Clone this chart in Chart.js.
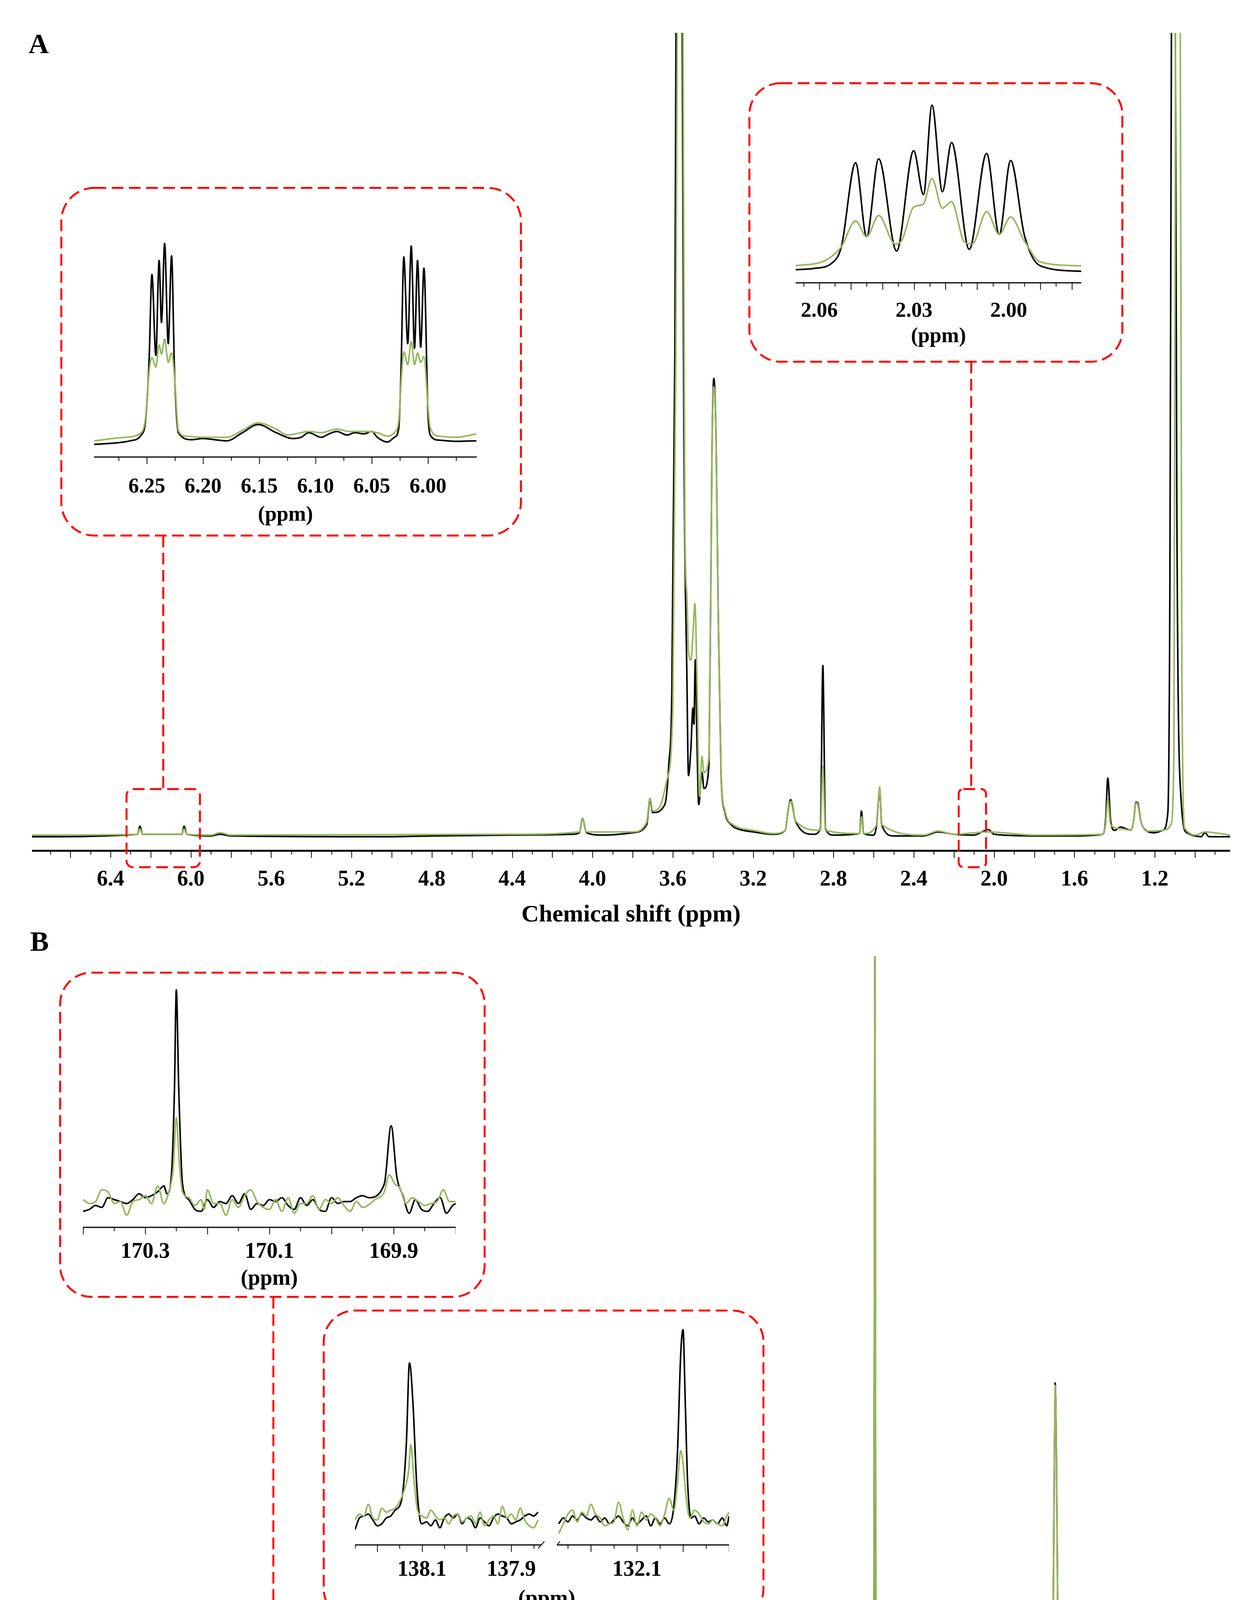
<!DOCTYPE html>
<html><head><meta charset="utf-8">
<script src="https://cdn.jsdelivr.net/npm/chart.js@4.4.0/dist/chart.umd.min.js"></script>
<style>
html,body{margin:0;padding:0;background:#fff;}
#page{position:relative;width:3160px;height:4924px;overflow:hidden;background:#fff;}
canvas{position:absolute;}
.t{position:absolute;font-family:"Liberation Serif","Times New Roman",serif;font-weight:bold;white-space:nowrap;line-height:1;}
svg{position:absolute;left:0;top:0;}
</style></head><body><div id="page"></div>
<script>
// ---------------- DATA ----------------
const CTRL_LABEL = "S-DHP407/NB-DHP407_ctrl";
const LIGHT_LABEL = "S-DHP407/NB-DHP407_light";
const axisTitle = "Chemical shift (ppm)";
const insetTitle = "(ppm)";

// Panel A (1H), [ppm, relative intensity]
const hCtrl = [[0.825,0],[0.93,0],[0.95,0.5],[0.97,0],[1.00,0.1],[1.04,0.5],[1.07,5],[1.09,40],[1.10,120],[1.107,150],[1.115,120],[1.125,30],[1.135,3],[1.16,0.8],[1.20,0.5],[1.24,0.7],[1.27,2],[1.285,4.2],[1.294,4.3],[1.305,2],[1.32,0.8],[1.37,1.2],[1.40,0.8],[1.42,2],[1.434,7.3],[1.445,2],[1.46,0.3],[1.6,0.1],[1.8,0.1],[2.00,0.3],[2.03,0.9],[2.06,0.6],[2.10,0.2],[2.20,0.3],[2.28,0.6],[2.35,0.1],[2.50,0.1],[2.56,1.5],[2.57,5.9],[2.585,1.5],[2.60,0.2],[2.65,0.4],[2.661,3.2],[2.67,0.4],[2.80,0.2],[2.84,1],[2.853,21.3],[2.865,1],[2.90,0.3],[2.99,2],[3.005,4.0],[3.013,4.6],[3.025,3.5],[3.04,0.8],[3.10,0.3],[3.20,0.6],[3.28,1],[3.31,1.5],[3.34,3],[3.36,8],[3.375,30],[3.385,50],[3.396,57],[3.405,48],[3.42,9],[3.445,6],[3.455,8],[3.471,4],[3.48,12],[3.488,22],[3.495,14],[3.50,16],[3.51,11],[3.522,7.6],[3.53,20],[3.545,50],[3.558,130],[3.575,150],[3.59,60],[3.605,18],[3.62,9],[3.64,4],[3.70,3],[3.714,4.6],[3.73,1.5],[3.80,0.5],[3.95,0.2],[4.03,0.5],[4.05,2.3],[4.065,0.5],[4.10,0.3],[4.4,0.2],[4.8,0.1],[5.0,0],[5.8,0.1],[5.855,0.3],[5.9,0.1],[6.02,0.3],[6.034,1.3],[6.045,0.3],[6.24,0.3],[6.254,1.3],[6.265,0.3],[6.791,0]];
const hLight = [[0.825,0.2],[0.95,0.6],[1.00,0.2],[1.05,1],[1.065,20],[1.075,120],[1.086,150],[1.095,120],[1.105,10],[1.12,1.5],[1.16,0.8],[1.24,0.7],[1.27,2],[1.285,4.0],[1.294,4.2],[1.305,2],[1.32,0.8],[1.37,1.0],[1.42,1.5],[1.434,4.6],[1.445,1.5],[1.46,0.3],[1.8,0.2],[2.03,0.6],[2.2,0.3],[2.28,0.7],[2.35,0.2],[2.56,1.5],[2.57,6.2],[2.585,1.5],[2.65,0.4],[2.661,2.5],[2.67,0.4],[2.84,0.8],[2.853,8.7],[2.865,0.8],[2.99,2],[3.005,4.2],[3.013,4.4],[3.025,3.6],[3.04,0.8],[3.10,0.4],[3.20,0.8],[3.30,1.5],[3.34,3.2],[3.36,8.5],[3.375,30],[3.385,50],[3.396,56],[3.405,48],[3.42,10],[3.445,8],[3.455,10],[3.467,5],[3.48,20],[3.49,29],[3.50,25],[3.51,22],[3.522,23],[3.53,30],[3.54,39],[3.552,120],[3.567,150],[3.585,60],[3.60,16],[3.63,7],[3.66,4],[3.70,3.2],[3.714,4.8],[3.73,1.8],[3.80,0.6],[4.03,0.6],[4.05,2.3],[4.065,0.6],[4.4,0.3],[5.8,0.2],[5.855,0.5],[5.9,0.2],[6.02,0.3],[6.034,1.0],[6.045,0.3],[6.24,0.3],[6.254,1.0],[6.265,0.3],[6.791,0.2]];
const hTicks = [6.4,6.0,5.6,5.2,4.8,4.4,4.0,3.6,3.2,2.8,2.4,2.0,1.6,1.2];

// Inset A1 (6.30-5.96 ppm)
const a1Ctrl = [[5.957,5],[5.975,3],[5.99,8],[5.998,30],[6.000,120],[6.0036,742],[6.0065,405],[6.0093,775],[6.012,400],[6.0149,837],[6.018,420],[6.0215,790],[6.024,300],[6.026,60],[6.030,20],[6.036,0],[6.045,20],[6.050,45],[6.057,35],[6.065,40],[6.072,30],[6.081,45],[6.088,35],[6.095,20],[6.106,40],[6.113,20],[6.120,15],[6.135,40],[6.151,75],[6.165,40],[6.179,5],[6.19,10],[6.20,15],[6.21,10],[6.222,40],[6.2254,300],[6.228,795],[6.231,420],[6.2342,848],[6.237,510],[6.2391,775],[6.242,370],[6.2455,715],[6.248,350],[6.251,100],[6.255,30],[6.265,5],[6.28,-5],[6.297,-10]];
const a1Light = [[5.957,35],[5.975,20],[5.99,25],[5.998,60],[6.000,150],[6.0036,365],[6.0065,340],[6.0093,380],[6.012,330],[6.0149,430],[6.018,330],[6.0215,385],[6.024,250],[6.026,90],[6.030,40],[6.036,25],[6.045,40],[6.057,45],[6.07,45],[6.081,55],[6.095,40],[6.106,45],[6.113,40],[6.125,30],[6.135,55],[6.151,82],[6.165,50],[6.179,20],[6.20,20],[6.215,25],[6.222,50],[6.2254,280],[6.228,380],[6.231,340],[6.2342,440],[6.237,375],[6.2391,415],[6.242,320],[6.2455,360],[6.248,300],[6.251,110],[6.255,40],[6.27,20],[6.297,5]];
const a1Ticks = [6.25,6.20,6.15,6.10,6.05,6.00];

// Inset A2 (2.07-1.98 ppm)
const a2Ctrl = [[1.977,-5],[1.990,5],[1.995,60],[1.9994,197],[2.003,62],[2.007,210],[2.0125,35],[2.0181,230],[2.021,140],[2.0243,298],[2.027,135],[2.0301,215],[2.0355,32],[2.0412,200],[2.045,58],[2.0485,193],[2.053,40],[2.056,10],[2.062,0],[2.0675,-2]];
const a2Light = [[1.977,5],[1.990,12],[1.995,50],[1.9994,94],[2.003,62],[2.007,104],[2.0115,45],[2.014,48],[2.0181,122],[2.021,110],[2.0243,164],[2.027,118],[2.0301,112],[2.034,50],[2.036,45],[2.0412,97],[2.045,58],[2.0485,87],[2.053,40],[2.058,15],[2.0675,5]];
const a2Ticks = [2.06,2.03,2.00];

// Panel B (13C)
const cCtrl = [[10.5,0],[17.0,0.3],[17.2,14.4],[17.4,0.3],[25.2,0.3],[25.46,5.9],[25.7,0.3],[29.9,0.2],[30.15,2.9],[30.4,0.2],[38.9,0.5],[39.1,5],[39.3,20],[39.5,38],[39.7,46.3],[39.9,30],[40.1,12],[40.3,0.5],[41.7,0.2],[41.95,3.1],[42.2,0.2],[45.65,0.2],[45.9,3.7],[46.15,0.2],[48.8,0.2],[49.07,3.2],[49.3,0.2],[60.3,0.3],[63.0,0.3],[67.9,0.3],[68.9,0.4],[69.6,1],[69.8,100],[70.0,1],[72.3,0.2],[72.5,8.9],[72.7,0.2],[74.3,0.3],[74.5,16.3],[74.7,0.3],[131.8,0.1],[132.0,1.8],[132.2,0.1],[137.9,0.1],[138.1,1.4],[138.3,0.1],[170.0,0.1],[170.25,2.1],[170.5,0.1],[210.5,0]];
const cLight = [[10.5,0.1],[17.0,0.3],[17.2,14.4],[17.4,0.3],[25.2,0.3],[25.46,2.5],[25.7,0.3],[29.9,0.2],[30.15,0.6],[30.6,0.8],[30.9,0.2],[38.9,0.5],[39.1,5],[39.3,20],[39.5,38],[39.7,46],[39.9,30],[40.1,12],[40.3,0.5],[41.7,0.2],[41.95,1.0],[42.2,0.2],[45.65,0.2],[45.9,1.0],[46.15,0.2],[48.8,0.2],[49.07,0.9],[49.3,0.2],[60.3,0.4],[63.0,0.6],[67.9,0.7],[68.9,0.7],[69.6,1],[69.8,100],[70.0,1],[72.3,0.2],[72.5,8.9],[72.7,0.2],[74.3,0.3],[74.5,16.3],[74.7,0.3],[131.8,0.1],[132.0,0.8],[132.2,0.1],[137.9,0.1],[138.1,0.6],[138.3,0.1],[154.9,0.1],[155.1,0.5],[155.3,0.1],[170.0,0.1],[170.25,1.0],[170.5,0.1],[210.5,0.1]];
const cTicks = [200,190,180,170,160,150,140,130,120,110,100,90,80,70,60,50,40,30,20];

// Inset B1 (170.40-169.80 ppm)
const b1Ctrl = [[169.80,10],[169.805,5],[169.815,-15],[169.825,25],[169.835,10],[169.845,-10],[169.855,-5],[169.865,20],[169.875,-15],[169.885,30],[169.895,80],[169.904,209],[169.915,60],[169.94,25],[169.95,30],[169.96,25],[169.97,15],[169.98,15],[169.99,10],[170.00,25],[170.01,-10],[170.02,-5],[170.03,20],[170.04,5],[170.05,25],[170.06,-5],[170.07,5],[170.08,25],[170.09,15],[170.10,20],[170.11,5],[170.12,10],[170.13,-5],[170.14,35],[170.15,10],[170.16,30],[170.17,10],[170.18,15],[170.19,0],[170.20,20],[170.21,-10],[170.22,-5],[170.23,20],[170.24,60],[170.246,300],[170.25,557],[170.253,300],[170.258,80],[170.265,35],[170.27,55],[170.28,40],[170.29,30],[170.30,25],[170.31,35],[170.32,20],[170.33,10],[170.34,15],[170.35,20],[170.36,25],[170.37,0],[170.38,5],[170.39,-5],[170.40,-10]];
const b1Light = [[169.80,15],[169.81,15],[169.82,45],[169.83,15],[169.84,10],[169.85,5],[169.86,15],[169.87,25],[169.88,10],[169.89,50],[169.898,60],[169.907,83],[169.915,40],[169.93,20],[169.95,0],[169.96,15],[169.97,-10],[169.98,5],[169.99,25],[170.00,10],[170.01,20],[170.02,-5],[170.03,30],[170.04,10],[170.05,10],[170.06,-15],[170.07,25],[170.08,-10],[170.09,20],[170.10,-5],[170.11,0],[170.12,15],[170.13,45],[170.14,30],[170.15,0],[170.16,20],[170.17,-20],[170.18,10],[170.19,10],[170.20,45],[170.205,-5],[170.21,20],[170.22,5],[170.23,25],[170.24,40],[170.245,110],[170.25,230],[170.255,100],[170.262,40],[170.27,10],[170.28,55],[170.29,10],[170.30,30],[170.31,20],[170.32,15],[170.33,-20],[170.34,15],[170.35,10],[170.36,40],[170.37,45],[170.38,15],[170.39,10],[170.40,20]];
const b1Ticks = [170.3,170.1,169.9];

// Inset B2 (broken axis: 138.25-137.83 | 132.27-131.90 ppm)
const b2LCtrl = [[137.84,25],[137.85,15],[137.86,20],[137.87,15],[137.88,5],[137.89,0],[137.90,-5],[137.91,10],[137.92,15],[137.93,20],[137.94,10],[137.95,-10],[137.96,0],[137.97,10],[137.98,-15],[137.99,5],[138.00,10],[138.01,-5],[138.02,20],[138.03,10],[138.04,20],[138.05,10],[138.06,-15],[138.07,5],[138.08,-10],[138.09,0],[138.10,-5],[138.105,10],[138.112,100],[138.12,300],[138.128,407],[138.135,200],[138.145,60],[138.16,30],[138.17,15],[138.18,10],[138.19,-5],[138.20,-10],[138.21,5],[138.22,20],[138.23,15],[138.24,10],[138.25,-20]];
const b2LLight = [[137.84,5],[137.85,-15],[137.86,-10],[137.87,5],[137.88,35],[137.89,5],[137.90,20],[137.91,10],[137.92,40],[137.93,-5],[137.94,15],[137.95,5],[137.96,-10],[137.97,25],[137.98,-5],[137.99,15],[138.00,10],[138.01,0],[138.02,20],[138.03,15],[138.04,-5],[138.05,10],[138.06,5],[138.07,15],[138.08,30],[138.09,10],[138.10,15],[138.11,30],[138.118,110],[138.125,197],[138.13,130],[138.14,80],[138.16,35],[138.17,30],[138.18,25],[138.19,35],[138.20,5],[138.21,10],[138.22,45],[138.23,15],[138.24,20],[138.25,5]];
const b2RCtrl = [[131.90,15],[131.905,-10],[131.915,10],[131.925,-5],[131.935,5],[131.945,0],[131.955,10],[131.965,-5],[131.975,15],[131.982,10],[131.99,100],[131.995,300],[132.0,492],[132.005,430],[132.012,180],[132.02,40],[132.03,-5],[132.04,10],[132.05,-5],[132.06,10],[132.07,-10],[132.08,15],[132.09,5],[132.10,-5],[132.11,10],[132.12,-10],[132.13,0],[132.14,15],[132.15,5],[132.16,-5],[132.17,10],[132.18,0],[132.19,15],[132.20,5],[132.21,10],[132.22,20],[132.23,5],[132.24,15],[132.25,0],[132.26,10],[132.27,-5]];
const b2RLight = [[131.90,25],[131.905,15],[131.915,-10],[131.925,-5],[131.935,5],[131.945,-5],[131.955,0],[131.965,20],[131.975,30],[131.985,10],[131.993,60],[132.0,150],[132.005,182],[132.012,100],[132.02,30],[132.03,60],[132.04,20],[132.05,-10],[132.06,10],[132.07,20],[132.08,5],[132.09,25],[132.10,-10],[132.11,30],[132.12,-20],[132.13,10],[132.14,50],[132.15,0],[132.16,-5],[132.17,-10],[132.18,10],[132.19,20],[132.20,45],[132.21,15],[132.22,25],[132.23,0],[132.24,30],[132.25,20],[132.26,-5],[132.27,-30]];
const b2LTicks = [138.1,137.9];
const b2RTicks = [132.1];

// ---------------- STYLE ----------------
const BLACK = "#000000", GREEN = "#93b85a", RED = "#ff0000";
const SERIF = '"Liberation Serif","Times New Roman",serif';
const page = document.getElementById('page');

const tickPlugin = {
  id: 'nmrTicks',
  afterDraw(chart, args, o) {
    const s = chart.scales.x, ctx = chart.ctx, ca = chart.chartArea;
    ctx.save();
    ctx.strokeStyle = '#000';
    ctx.lineWidth = o.axisW;
    ctx.beginPath(); ctx.moveTo(ca.left, ca.bottom); ctx.lineTo(ca.right, ca.bottom); ctx.stroke();
    ctx.lineWidth = o.tickW;
    const k0 = Math.ceil(s.min / o.minor - 1e-6), k1 = Math.floor(s.max / o.minor + 1e-6);
    for (let k = k0; k <= k1; k++) {
      const v = k * o.minor;
      const r = v / o.major, isMaj = Math.abs(r - Math.round(r)) < 1e-4;
      const x = Math.round(s.getPixelForValue(v)) + 0.5;
      ctx.beginPath(); ctx.moveTo(x, ca.bottom); ctx.lineTo(x, ca.bottom + (isMaj ? o.lmaj : o.lmin)); ctx.stroke();
    }
    if (o.breakRight || o.breakLeft) {
      ctx.lineWidth = 2;
      const x = o.breakRight ? ca.right : ca.left, y = ca.bottom;
      ctx.beginPath(); ctx.moveTo(x - 8, y + 9); ctx.lineTo(x + 8, y - 9); ctx.stroke();
    }
    ctx.restore();
  }
};

function mk(c) {
  const cv = document.createElement('canvas');
  const w = c.R - c.L, h = c.B - c.T;
  cv.width = w; cv.height = h;
  cv.style.left = c.L + 'px'; cv.style.top = c.T + 'px';
  cv.style.width = w + 'px'; cv.style.height = h + 'px';
  page.appendChild(cv);
  const pad = c.lab - c.axis - 0.56 * c.font;
  new Chart(cv.getContext('2d'), {
    type: 'line',
    data: { datasets: [
      // index 0 is drawn on top: light (green) over ctrl (black)
      { label: LIGHT_LABEL, data: c.light.map(p => ({x: p[0], y: p[1]})), borderColor: GREEN, borderWidth: c.lw, pointRadius: 0, cubicInterpolationMode: 'monotone', fill: false },
      { label: CTRL_LABEL, data: c.ctrl.map(p => ({x: p[0], y: p[1]})), borderColor: BLACK, borderWidth: c.lw, pointRadius: 0, cubicInterpolationMode: 'monotone', fill: false }
    ]},
    options: {
      responsive: false, animation: false, devicePixelRatio: 1, events: [],
      layout: { padding: 0 },
      plugins: { legend: { display: false }, tooltip: { enabled: false },
        nmrTicks: { axisW: c.axisW, tickW: 2, minor: c.minor, major: c.major, lmaj: 18, lmin: 10, breakRight: !!c.breakRight, breakLeft: !!c.breakLeft } },
      scales: {
        x: {
          type: 'linear', reverse: true, min: c.xmin, max: c.xmax,
          afterBuildTicks: s => { s.ticks = c.ticks.map(v => ({value: v})); },
          afterFit: s => { s.height = c.B - c.axis; },
          grid: { display: false, drawTicks: false },
          border: { display: false },
          ticks: { color: '#000', padding: pad, maxRotation: 0, autoSkip: false,
            font: { family: SERIF, size: c.font, weight: 'bold' },
            callback: v => v.toFixed(c.dec) },
          title: { display: !!c.title, text: c.title || '', color: '#000', padding: 0,
            font: { family: SERIF, size: c.tfont, weight: 'bold', lineHeight: 1.2 } }
        },
        y: { display: false, min: c.ymin, max: c.ymax }
      }
    },
    plugins: [tickPlugin]
  });
}

// Main A
mk({L:82,R:3150,T:84,axis:2178,B:2380,xmin:0.825,xmax:6.791,ymin:-1.75,ymax:100,ctrl:hCtrl,light:hLight,ticks:hTicks,dec:1,font:56,lab:2250,title:axisTitle,tfont:62,minor:0.1,major:0.2,lw:4,axisW:5});
// Main B
mk({L:82,R:3150,T:2448,axis:4531,B:4742,xmin:10.5,xmax:210.5,ymin:-2.36,ymax:100,ctrl:cCtrl,light:cLight,ticks:cTicks,dec:0,font:56,lab:4603,title:axisTitle,tfont:62,minor:5,major:10,lw:4,axisW:5});
// Inset A1
mk({L:241,R:1221,T:560,axis:1170,B:1351,xmin:5.9566,xmax:6.2969,ymin:-64,ymax:953,ctrl:a1Ctrl,light:a1Light,ticks:a1Ticks,dec:2,font:54,lab:1245,title:insetTitle,tfont:54,minor:0.025,major:0.05,lw:4,axisW:3});
// Inset A2
mk({L:2010,R:2769,T:230,axis:724,B:894,xmin:1.977,xmax:2.0675,ymin:-26,ymax:326,ctrl:a2Ctrl,light:a2Light,ticks:a2Ticks,dec:2,font:54,lab:795,title:insetTitle,tfont:54,minor:0.005,major:0.01,lw:4,axisW:3});
// Inset B1
mk({L:212,R:1167,T:2520,axis:3142,B:3308,xmin:169.8,xmax:170.4006,ymin:-51,ymax:571,ctrl:b1Ctrl,light:b1Light,ticks:b1Ticks,dec:1,font:56,lab:3203,title:insetTitle,tfont:56,minor:0.05,major:0.1,lw:4,axisW:3});
// Inset B2 left / right
mk({L:909,R:1403,T:3390,axis:3955,B:4060,xmin:137.833,xmax:138.25,ymin:-59,ymax:506,ctrl:b2LCtrl,light:b2LLight,ticks:b2LTicks,dec:1,font:56,lab:4017,minor:0.05,major:0.1,lw:4,axisW:3,breakRight:true});
mk({L:1426,R:1867,T:3390,axis:3955,B:4060,xmin:131.90,xmax:132.274,ymin:-59,ymax:506,ctrl:b2RCtrl,light:b2RLight,ticks:b2RTicks,dec:1,font:56,lab:4017,minor:0.05,major:0.1,lw:4,axisW:3,breakLeft:true});

// ---------------- ANNOTATIONS ----------------
function txt(s, x, y, size, color, anchor) {
  const d = document.createElement('div');
  d.className = 't'; d.textContent = s;
  d.style.fontSize = size + 'px'; d.style.color = color;
  d.style.left = x + 'px'; d.style.top = (y - size * 0.891) + 'px';
  if (anchor === 'middle') d.style.transform = 'translateX(-50%)';
  page.appendChild(d);
}
txt('A', 73, 140, 72, '#000');
txt('B', 77, 2438, 72, '#000');
txt(insetTitle, 1400, 4094 + 18, 56, '#000', 'middle');
txt(CTRL_LABEL, 338, 4885, 70, '#000');
txt(LIGHT_LABEL, 2025, 4885, 70, GREEN);

const NS = 'http://www.w3.org/2000/svg';
const svg = document.createElementNS(NS, 'svg');
svg.setAttribute('width', 3160); svg.setAttribute('height', 4924);
page.appendChild(svg);
function rect(x, y, w, h, r) {
  const e = document.createElementNS(NS, 'rect');
  e.setAttribute('x', x); e.setAttribute('y', y); e.setAttribute('width', w); e.setAttribute('height', h);
  e.setAttribute('rx', r); e.setAttribute('ry', r);
  e.setAttribute('fill', 'none'); e.setAttribute('stroke', RED); e.setAttribute('stroke-width', 5);
  e.setAttribute('stroke-dasharray', '30 14');
  svg.appendChild(e);
}
function vline(x, y1, y2) {
  const e = document.createElementNS(NS, 'line');
  e.setAttribute('x1', x); e.setAttribute('x2', x); e.setAttribute('y1', y1); e.setAttribute('y2', y2);
  e.setAttribute('stroke', RED); e.setAttribute('stroke-width', 5); e.setAttribute('stroke-dasharray', '30 14');
  svg.appendChild(e);
}
rect(157, 481, 1177, 890, 85);
rect(1919, 213, 955, 713, 80);
rect(154, 2490, 1087, 830, 80);
rect(829, 3355, 1126, 793, 80);
rect(324, 2020, 188, 200, 16);
rect(2455, 2020, 70, 200, 12);
rect(652, 4390, 98, 162, 14);
rect(1164, 4390, 147, 162, 14);
vline(418, 1371, 2020);
vline(2487, 926, 2020);
vline(700, 3320, 4390);
vline(1236, 4148, 4390);
</script></body></html>
